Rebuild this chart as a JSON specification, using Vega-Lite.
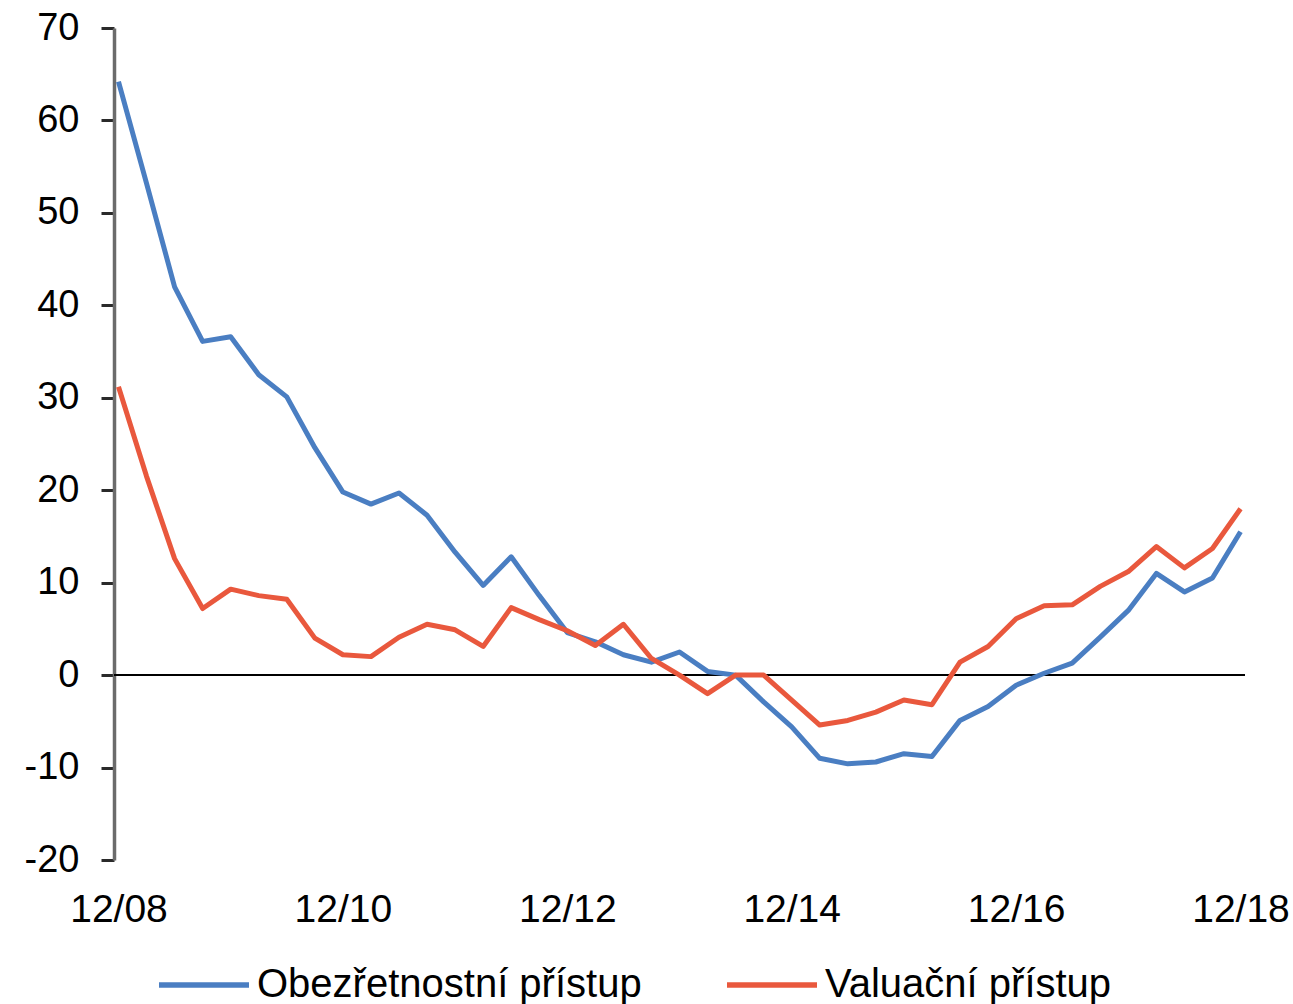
{
  "$schema": "https://vega.github.io/schema/vega-lite/v6.json",
  "width": 1131,
  "height": 832,
  "autosize": {"type": "none"},
  "padding": {"left": 114, "top": 28, "right": 48, "bottom": 144},
  "background": "white",
  "config": {
    "view": {"stroke": null},
    "font": "Liberation Sans",
    "axis": {"labelFont": "Liberation Sans", "labelColor": "#000000", "grid": false, "title": null},
    "legend": {"labelFont": "Liberation Sans"}
  },
  "datasets": {
    "series": [
      {"d":"12/08","s":"Obezřetnostní přístup","v":64.2},
      {"d":"03/09","s":"Obezřetnostní přístup","v":53.2},
      {"d":"06/09","s":"Obezřetnostní přístup","v":42.0},
      {"d":"09/09","s":"Obezřetnostní přístup","v":36.1},
      {"d":"12/09","s":"Obezřetnostní přístup","v":36.6},
      {"d":"03/10","s":"Obezřetnostní přístup","v":32.5},
      {"d":"06/10","s":"Obezřetnostní přístup","v":30.1},
      {"d":"09/10","s":"Obezřetnostní přístup","v":24.6},
      {"d":"12/10","s":"Obezřetnostní přístup","v":19.8},
      {"d":"03/11","s":"Obezřetnostní přístup","v":18.5},
      {"d":"06/11","s":"Obezřetnostní přístup","v":19.7},
      {"d":"09/11","s":"Obezřetnostní přístup","v":17.3},
      {"d":"12/11","s":"Obezřetnostní přístup","v":13.3},
      {"d":"03/12","s":"Obezřetnostní přístup","v":9.7},
      {"d":"06/12","s":"Obezřetnostní přístup","v":12.8},
      {"d":"09/12","s":"Obezřetnostní přístup","v":8.6},
      {"d":"12/12","s":"Obezřetnostní přístup","v":4.6},
      {"d":"03/13","s":"Obezřetnostní přístup","v":3.6},
      {"d":"06/13","s":"Obezřetnostní přístup","v":2.2},
      {"d":"09/13","s":"Obezřetnostní přístup","v":1.4},
      {"d":"12/13","s":"Obezřetnostní přístup","v":2.5},
      {"d":"03/14","s":"Obezřetnostní přístup","v":0.4},
      {"d":"06/14","s":"Obezřetnostní přístup","v":0.0},
      {"d":"09/14","s":"Obezřetnostní přístup","v":-2.9},
      {"d":"12/14","s":"Obezřetnostní přístup","v":-5.6},
      {"d":"03/15","s":"Obezřetnostní přístup","v":-9.0},
      {"d":"06/15","s":"Obezřetnostní přístup","v":-9.6},
      {"d":"09/15","s":"Obezřetnostní přístup","v":-9.4},
      {"d":"12/15","s":"Obezřetnostní přístup","v":-8.5},
      {"d":"03/16","s":"Obezřetnostní přístup","v":-8.8},
      {"d":"06/16","s":"Obezřetnostní přístup","v":-4.9},
      {"d":"09/16","s":"Obezřetnostní přístup","v":-3.4},
      {"d":"12/16","s":"Obezřetnostní přístup","v":-1.1},
      {"d":"03/17","s":"Obezřetnostní přístup","v":0.2},
      {"d":"06/17","s":"Obezřetnostní přístup","v":1.3},
      {"d":"09/17","s":"Obezřetnostní přístup","v":4.1},
      {"d":"12/17","s":"Obezřetnostní přístup","v":7.0},
      {"d":"03/18","s":"Obezřetnostní přístup","v":11.0},
      {"d":"06/18","s":"Obezřetnostní přístup","v":9.0},
      {"d":"09/18","s":"Obezřetnostní přístup","v":10.5},
      {"d":"12/18","s":"Obezřetnostní přístup","v":15.5},
      {"d":"12/08","s":"Valuační přístup","v":31.2},
      {"d":"03/09","s":"Valuační přístup","v":21.5},
      {"d":"06/09","s":"Valuační přístup","v":12.6},
      {"d":"09/09","s":"Valuační přístup","v":7.2},
      {"d":"12/09","s":"Valuační přístup","v":9.3},
      {"d":"03/10","s":"Valuační přístup","v":8.6},
      {"d":"06/10","s":"Valuační přístup","v":8.2},
      {"d":"09/10","s":"Valuační přístup","v":4.0},
      {"d":"12/10","s":"Valuační přístup","v":2.2},
      {"d":"03/11","s":"Valuační přístup","v":2.0},
      {"d":"06/11","s":"Valuační přístup","v":4.1},
      {"d":"09/11","s":"Valuační přístup","v":5.5},
      {"d":"12/11","s":"Valuační přístup","v":4.9},
      {"d":"03/12","s":"Valuační přístup","v":3.1},
      {"d":"06/12","s":"Valuační přístup","v":7.3},
      {"d":"09/12","s":"Valuační přístup","v":6.0},
      {"d":"12/12","s":"Valuační přístup","v":4.8},
      {"d":"03/13","s":"Valuační přístup","v":3.2},
      {"d":"06/13","s":"Valuační přístup","v":5.5},
      {"d":"09/13","s":"Valuační přístup","v":1.8},
      {"d":"12/13","s":"Valuační přístup","v":0.0},
      {"d":"03/14","s":"Valuační přístup","v":-2.0},
      {"d":"06/14","s":"Valuační přístup","v":0.0},
      {"d":"09/14","s":"Valuační přístup","v":0.0},
      {"d":"12/14","s":"Valuační přístup","v":-2.7},
      {"d":"03/15","s":"Valuační přístup","v":-5.4},
      {"d":"06/15","s":"Valuační přístup","v":-4.9},
      {"d":"09/15","s":"Valuační přístup","v":-4.0},
      {"d":"12/15","s":"Valuační přístup","v":-2.7},
      {"d":"03/16","s":"Valuační přístup","v":-3.2},
      {"d":"06/16","s":"Valuační přístup","v":1.4},
      {"d":"09/16","s":"Valuační přístup","v":3.1},
      {"d":"12/16","s":"Valuační přístup","v":6.1},
      {"d":"03/17","s":"Valuační přístup","v":7.5},
      {"d":"06/17","s":"Valuační přístup","v":7.6},
      {"d":"09/17","s":"Valuační přístup","v":9.6},
      {"d":"12/17","s":"Valuační přístup","v":11.2},
      {"d":"03/18","s":"Valuační přístup","v":13.9},
      {"d":"06/18","s":"Valuační přístup","v":11.6},
      {"d":"09/18","s":"Valuační přístup","v":13.7},
      {"d":"12/18","s":"Valuační přístup","v":18.0}
    ]
  },
  "data": {"name": "series"},
  "layer": [
    {
      "mark": {"type": "rule", "color": "#000000", "strokeWidth": 2},
      "encoding": {"y": {"datum": 0, "type": "quantitative", "scale": {"domain": [-20, 70], "nice": false}}}
    },
    {
      "mark": {"type": "line", "strokeWidth": 5, "strokeJoin": "round"},
      "encoding": {
        "x": {
          "field": "d", "type": "ordinal", "sort": null,
          "scale": {"type": "point", "padding": 0.16},
          "axis": {
            "values": ["12/08","12/10","12/12","12/14","12/16","12/18"],
            "labelAngle": 0, "labelFontSize": 39, "domain": false, "ticks": false,
            "labelPadding": 30
          }
        },
        "y": {
          "field": "v", "type": "quantitative",
          "scale": {"domain": [-20, 70], "nice": false},
          "axis": {
            "values": [-20,-10,0,10,20,30,40,50,60,70],
            "labelExpr": "'' + datum.value",
            "labelFontSize": 38, "tickSize": 13, "tickWidth": 3, "tickColor": "#2a2a2a",
            "domainColor": "#6b6b6b", "domainWidth": 3.5, "labelPadding": 22
          }
        },
        "color": {
          "field": "s", "type": "nominal",
          "scale": {"domain": ["Obezřetnostní přístup", "Valuační přístup"], "range": ["#4A7EC2", "#E9583D"]},
          "legend": {
            "title": null, "orient": "none", "direction": "horizontal",
            "legendX": 42, "legendY": 909, "padding": 0,
            "symbolType": "stroke", "symbolSize": 8100, "symbolStrokeWidth": 5.5,
            "labelFontSize": 40, "labelColor": "#000000", "labelOffset": 5,
            "columnPadding": 74, "labelLimit": 600
          }
        }
      }
    }
  ]
}
